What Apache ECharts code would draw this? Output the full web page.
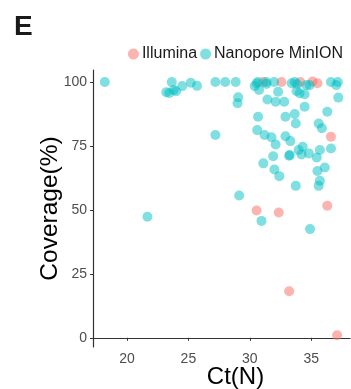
<!DOCTYPE html>
<html>
<head>
<meta charset="utf-8">
<script src="https://cdn.jsdelivr.net/npm/echarts@6/dist/echarts.min.js"></script>
<style>
  html, body { margin: 0; padding: 0; background: #fff; }
  #chart { width: 351px; height: 389px; }
</style>
</head>
<body>
<div id="chart"></div>
<script>
// Ct(N) vs coverage
const illumina = [
  [31.1, 100], [32.57, 100], [34.1, 100], [35.1, 100.2], [35.5, 99.5],
  [36.6, 78.6], [30.55, 49.8], [32.35, 49], [36.3, 51.6], [33.2, 18.2], [37.1, 1]
];

const nanopore = [
  [18.2, 100], [23.2, 96], [23.45, 95.7], [23.65, 100], [23.8, 96.9], [24.0, 96.4],
  [24.5, 98.4], [25.2, 99.7], [25.7, 98.5], [27.2, 100], [27.2, 79.3], [28.0, 100],
  [28.85, 100], [29.05, 94], [29.0, 91.7], [21.67, 47.3], [29.13, 55.6],
  [30.4, 98.4], [30.75, 96.9], [30.55, 99.5], [30.67, 100], [31.35, 100], [31.35, 99.2],
  [31.97, 100], [32.3, 96.2], [32.1, 92.3], [32.8, 92.3], [31.43, 93.2], [33.4, 99.5],
  [33.65, 100], [33.84, 99.2], [33.8, 96.5], [34.6, 98.8], [34.87, 98.8], [34.05, 95.6],
  [34.46, 95.2], [34.46, 90.3], [36.6, 100], [37.16, 100], [37.03, 98.8], [37.2, 93.9],
  [30.67, 86.4], [32.9, 86.4], [33.65, 87.5], [33.74, 83.8], [36.3, 88.4], [35.6, 83.8],
  [35.86, 81.9], [30.6, 81.2], [31.2, 79.3], [31.76, 78.4], [32.1, 75.6], [32.9, 78.8],
  [33.3, 76.9], [33.97, 73.4], [34.3, 74.7], [34.2, 71.7], [34.8, 72.1], [35.45, 70.5],
  [35.7, 73.4], [36.6, 74], [33.2, 71.2], [33.25, 71.5], [31.9, 71], [31.1, 68.2],
  [32.0, 65.8], [32.4, 63.2], [35.5, 65.2], [36.1, 66.6], [35.7, 61.4], [35.6, 59.4],
  [33.74, 59.4], [30.95, 45.7], [34.9, 42.5]
];

const xTicks = [20, 25, 30, 35];
const yTicks = [0, 25, 50, 75, 100];

const chart = echarts.init(document.getElementById('chart'));
const font = 'Liberation Sans, Arial, Helvetica, sans-serif';

const option = {
  animation: false,
  title: {
    text: 'E',
    left: 9,
    top: 8,
    textStyle: { fontFamily: font, fontSize: 28, fontWeight: 'bold', color: '#1a1a1a' }
  },
  legend: {
    right: 3,
    top: 41,
    itemWidth: 11,
    itemHeight: 11,
    itemGap: 3,
    icon: 'circle',
    textStyle: { fontFamily: font, fontSize: 16, color: '#1a1a1a', padding: [0, 0, 0, -2] },
    data: ['Illumina', 'Nanopore MinION']
  },
  grid: { left: 93, right: 1, top: 70, bottom: 42, outerBoundsMode: 'none', containLabel: false },
  xAxis: {
    type: 'value',
    min: 17.24,
    max: 38.15,
    name: 'Ct(N)',
    nameLocation: 'middle',
    nameGap: 18,
    nameMoveOverlap: false,
    nameTextStyle: { fontFamily: font, fontSize: 24, color: '#000', padding: [0, 0, 0, 28], verticalAlign: 'top' },
    splitLine: { show: false },
    axisLine: { lineStyle: { color: '#333', width: 1.2 } },
    axisTick: { customValues: xTicks, length: 3, lineStyle: { color: '#333' } },
    axisLabel: { customValues: xTicks, fontFamily: font, fontSize: 14, color: '#4d4d4d', margin: 5 }
  },
  yAxis: {
    type: 'value',
    min: -3.6,
    max: 104.7,
    name: 'Coverage(%)',
    nameLocation: 'middle',
    nameGap: 30,
    nameMoveOverlap: false,
    nameTextStyle: { fontFamily: font, fontSize: 24.5, color: '#000' },
    splitLine: { show: false },
    axisLine: { show: true, lineStyle: { color: '#333', width: 1.2 } },
    axisTick: { show: true, customValues: yTicks, length: 3, lineStyle: { color: '#333' } },
    axisLabel: { customValues: yTicks, fontFamily: font, fontSize: 14, color: '#4d4d4d', margin: 6 }
  },
  series: [
    {
      name: 'Illumina',
      type: 'scatter',
      symbolSize: 10,
      itemStyle: { color: '#F8766D', opacity: 0.55 },
      data: illumina
    },
    {
      name: 'Nanopore MinION',
      type: 'scatter',
      symbolSize: 10,
      itemStyle: { color: '#00BFC4', opacity: 0.5 },
      data: nanopore
    }
  ]
};

chart.setOption(option);
</script>
</body>
</html>
